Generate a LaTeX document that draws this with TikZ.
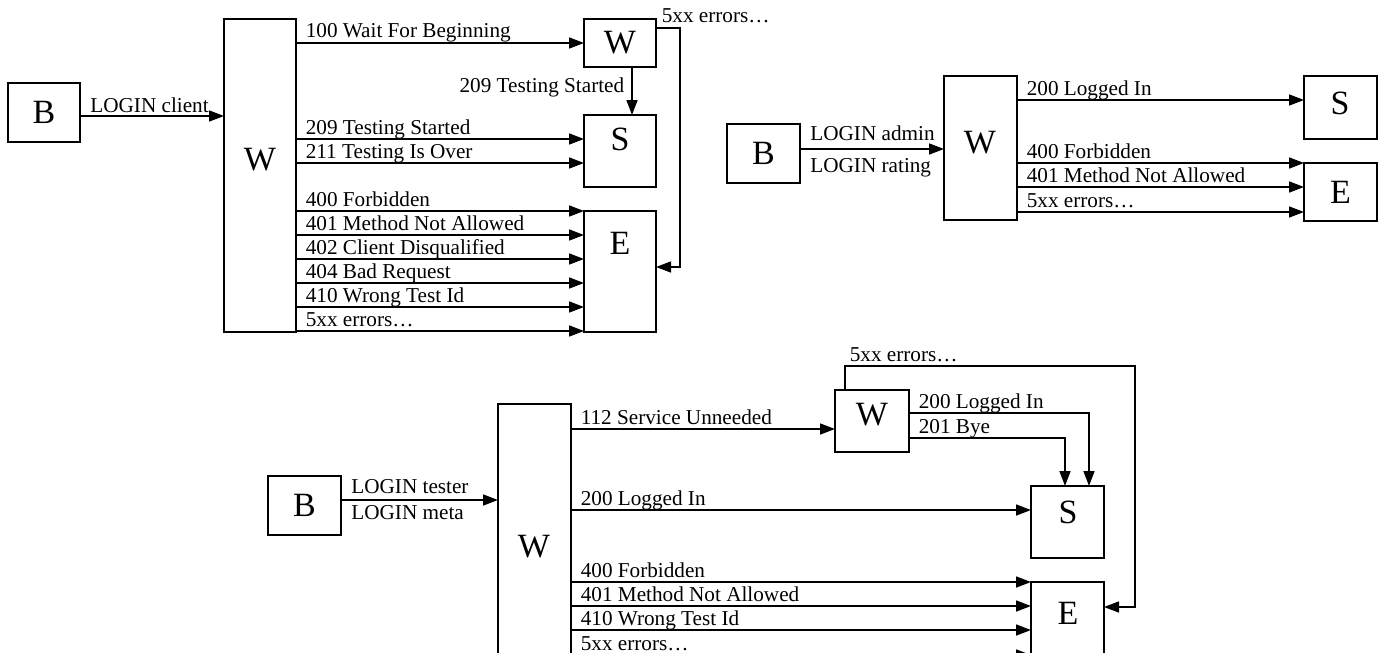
\documentclass[tikz,border=0pt]{standalone}
\usepackage{fontspec}
\setmainfont{Liberation Serif}
\usetikzlibrary{arrows.meta}

\begin{document}
\begin{tikzpicture}[x=0.5pt, y=-0.5pt, >={Triangle[length=7.5pt,width=5.5pt]},
    box/.style={draw, line width=1pt, inner sep=0pt, outer sep=0pt, anchor=north west, font=\fontsize{17}{20}\selectfont},
    big/.style={inner sep=0pt, font=\fontsize{17}{20}\selectfont},
    link/.style={->, line width=0.8pt},
    lbl/.style={anchor=base west, inner sep=0pt, xshift=4.5pt, yshift=2.5pt, font=\fontsize{10.6}{12}\selectfont},
    login/.style={anchor=base west, inner sep=0pt, xshift=4.8pt, font=\fontsize{10.6}{12}\selectfont}]
    \useasboundingbox (0,0) rectangle (1383,653);

    % Client
    \node[box, minimum width=36pt, minimum height=29.5pt] (b1) at (8,83) {B};
    \node[box, minimum width=36pt, minimum height=156.5pt] (w1) at (224,19) {};
    \node[big] (w1l) at (260,160) {W};
    \node[box, minimum width=36pt, minimum height=24pt] (w2) at (584,19) {W};
    \node[box, minimum width=36pt, minimum height=36pt] (s1) at (584,115) {};
    \node[big] (s1l) at (620,139) {S};
    \node[box, minimum width=36pt, minimum height=60.5pt] (e1) at (584,211) {};
    \node[big] (e1l) at (620,243) {E};

    \draw[link] (b1.east |- 0,116) -- node[login, pos=0, yshift=1.7pt] {LOGIN client} (w1.west |- 0,116);
    \draw[link] (w1.east |- 0,43) -- node[lbl, pos=0] {100 Wait For Beginning} (w2.west |- 0,43);
    \draw[link] (w2.south -| 632,0) -- node[anchor=base east, inner sep=0pt, xshift=-3.5pt, yshift=-0.5pt, font=\fontsize{10.6}{12}\selectfont] {209 Testing Started} (s1.north -| 632,0);
    \draw[link] (w1.east |- 0,139) -- node[lbl, pos=0] {209 Testing Started} (s1.west |- 0,139);
    \draw[link] (w1.east |- 0,163) -- node[lbl, pos=0] {211 Testing Is Over} (s1.west |- 0,163);
    \draw[link] (w1.east |- 0,211) -- node[lbl, pos=0] {400 Forbidden} (e1.west |- 0,211);
    \draw[link] (w1.east |- 0,235) -- node[lbl, pos=0] {401 Method Not Allowed} (e1.west |- 0,235);
    \draw[link] (w1.east |- 0,259) -- node[lbl, pos=0] {402 Client Disqualified} (e1.west |- 0,259);
    \draw[link] (w1.east |- 0,283) -- node[lbl, pos=0] {404 Bad Request} (e1.west |- 0,283);
    \draw[link] (w1.east |- 0,307) -- node[lbl, pos=0] {410 Wrong Test Id} (e1.west |- 0,307);
    \draw[link] (w1.east |- 0,331) -- node[lbl, pos=0] {5xx errors…} (e1.west |- 0,331);
    \draw[link] (w2.east |- 0,28) -| node[lbl, pos=0, xshift=-2pt] {5xx errors…} (680,267) -- (e1.east |- 0,267);

    % Admin, rating
    \node[box, minimum width=36.5pt, minimum height=29.5pt] (b2) at (727,124) {B};
    \node[box, minimum width=36.5pt, minimum height=72pt] (w3) at (944,76) {};
    \node[big] (w3l) at (980,143) {W};
    \node[box, minimum width=36.5pt, minimum height=31.5pt] (s2) at (1304,76) {};
    \node[big] (s2l) at (1340,103) {S};
    \node[box, minimum width=36.5pt, minimum height=29pt] (e2) at (1304,163) {E};

    \draw[link] (b2.east |- 0,149) -- node[login, pos=0, yshift=4.5pt] {LOGIN admin} node[login, pos=0, yshift=-11.5pt] {LOGIN rating} (w3.west |- 0,149);
    \draw[link] (w3.east |- 0,100) -- node[lbl, pos=0] {200 Logged In} (s2.west |- 0,100);
    \draw[link] (w3.east |- 0,163) -- node[lbl, pos=0] {400 Forbidden} (e2.west |- 0,163);
    \draw[link] (w3.east |- 0,187) -- node[lbl, pos=0] {401 Method Not Allowed} (e2.west |- 0,187);
    \draw[link] (w3.east |- 0,212) -- node[lbl, pos=0] {5xx errors…} (e2.west |- 0,212);

    % Tester, meta
    \node[box, minimum width=36.5pt, minimum height=29.5pt] (b3) at (268,476) {B};
    \node[box, minimum width=36.5pt, minimum height=140pt] (w4) at (498,404) {};
    \node[big] (w4l) at (534,547) {W};
    \node[box, minimum width=37pt, minimum height=31pt] (w5) at (835,390) {};
    \node[big] (w5l) at (872,415) {W};
    \node[box, minimum width=36.5pt, minimum height=36pt] (s3) at (1031,486) {};
    \node[big] (s3l) at (1068,512) {S};
    \node[box, minimum width=36.5pt, minimum height=50pt] (e3) at (1031,582) {};
    \node[big] (e3l) at (1068,613) {E};

    \draw[link] (b3.east |- 0,500) -- node[login, pos=0, yshift=3.5pt] {LOGIN tester} node[login, pos=0, yshift=-9.5pt] {LOGIN meta} (w4.west |- 0,500);
    \draw[link] (w4.east |- 0,429) -- node[lbl, pos=0] {112 Service Unneeded} (w5.west |- 0,429);
    \draw[link] (w4.east |- 0,510) -- node[lbl, pos=0] {200 Logged In} (s3.west |- 0,510);
    \draw[link] (w4.east |- 0,582) -- node[lbl, pos=0] {400 Forbidden} (e3.west |- 0,582);
    \draw[link] (w4.east |- 0,606) -- node[lbl, pos=0] {401 Method Not Allowed} (e3.west |- 0,606);
    \draw[link] (w4.east |- 0,630) -- node[lbl, pos=0] {410 Wrong Test Id} (e3.west |- 0,630);
    \draw[link] (w4.east |- 0,655) -- node[lbl, pos=0] {5xx errors…} (e3.west |- 0,655);
    \draw[link] (w5.east |- 0,413) -| node[lbl, pos=0] {200 Logged In} (s3.north -| 1089,0);
    \draw[link] (w5.east |- 0,438) -| node[lbl, pos=0] {201 Bye} (s3.north -| 1065,0);
    \draw[link] (w5.north -| 845,0) |- node[lbl, pos=0.5, xshift=-2.5pt] {5xx errors…} (1135,366) |- (e3.east |- 0,607);
\end{tikzpicture}
\end{document}
